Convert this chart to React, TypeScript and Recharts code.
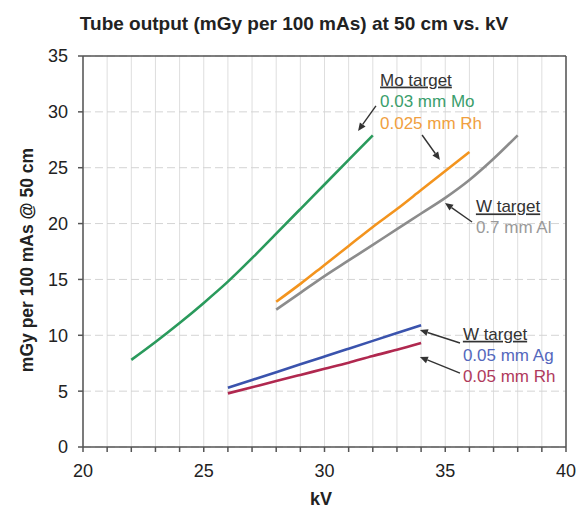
import React from 'react';
import { LineChart, Line, XAxis, YAxis, CartesianGrid, ReferenceLine, ReferenceDot, Customized } from 'recharts';

// kV values and tube outputs (mGy per 100 mAs @ 50 cm)
const kvMoMo = [22, 23, 24, 25, 26, 27, 28, 29, 30, 31, 32];
const outMoMo = [7.8, 9.4, 11.1, 12.9, 14.8, 16.9, 19.1, 21.3, 23.5, 25.7, 27.9];

const kvMoRh = [28, 29, 30, 31, 32, 33, 34, 35, 36];
const outMoRh = [13.0, 14.6, 16.3, 18.0, 19.7, 21.3, 23.0, 24.7, 26.4];

const kvWAl = [28, 29, 30, 31, 32, 33, 34, 35, 36, 37, 38];
const outWAl = [12.3, 13.8, 15.3, 16.7, 18.1, 19.5, 20.9, 22.3, 23.9, 25.8, 27.9];

const kvWAg = [26, 27, 28, 29, 30, 31, 32, 33, 34];
const outWAg = [5.3, 6.0, 6.7, 7.4, 8.1, 8.8, 9.5, 10.2, 10.9];

const kvWRh = [26, 27, 28, 29, 30, 31, 32, 33, 34];
const outWRh = [4.8, 5.35, 5.9, 6.45, 7.0, 7.55, 8.15, 8.7, 9.3];

const xTicks = [20, 21, 22, 23, 24, 25, 26, 27, 28, 29, 30, 31, 32, 33, 34, 35, 36, 37, 38, 39, 40];
const yTicks = [0, 5, 10, 15, 20, 25, 30, 35];

const titleText = 'Tube output (mGy per 100 mAs) at 50 cm vs. kV';
const xLabel = 'kV';
const yLabel = 'mGy per 100 mAs @ 50 cm';

const annLabels = ['Mo target', '0.03 mm Mo', '0.025 mm Rh', 'W target', '0.7 mm Al', 'W target', '0.05 mm Ag', '0.05 mm Rh'];
const annKV = [32.3, 32.3, 32.3, 36.27, 36.27, 35.73, 35.73, 35.73];
const annVal = [32.35, 30.4, 28.5, 21.0, 19.2, 9.6, 7.72, 5.85];
const annColors = ['#333333', '#3a9e6c', '#f0a040', '#333333', '#9a9a9a', '#333333', '#5468bd', '#b03a5c'];
const annUnderline = [true, false, false, true, false, true, false, false];

const arrowFromKV = [32.13, 34.04, 36.11, 35.61, 35.61];
const arrowFromVal = [30.53, 27.93, 20.14, 9.31, 6.62];
const arrowToKV = [31.39, 34.78, 34.99, 33.95, 33.95];
const arrowToVal = [28.29, 25.69, 21.84, 10.47, 8.06];

const series = [
  { name: '0.03 mm Mo', kv: kvMoMo, out: outMoMo, color: '#2a9a5c' },
  { name: '0.025 mm Rh', kv: kvMoRh, out: outMoRh, color: '#f3941e' },
  { name: '0.7 mm Al', kv: kvWAl, out: outWAl, color: '#8c8c8c' },
  { name: '0.05 mm Ag', kv: kvWAg, out: outWAg, color: '#3a53ad' },
  { name: '0.05 mm Rh', kv: kvWRh, out: outWRh, color: '#b0284f' },
];

const FONT = '"Liberation Sans", Arial, sans-serif';

const arrowShape = (p: any) => {
  const { x1, y1, x2, y2 } = p;
  const ang = Math.atan2(y2 - y1, x2 - x1);
  const L = 8;
  const W = 3.5;
  const bx = x2 - L * Math.cos(ang);
  const by = y2 - L * Math.sin(ang);
  const px = -Math.sin(ang) * W;
  const py = Math.cos(ang) * W;
  return (
    <g>
      <line x1={x1} y1={y1} x2={bx} y2={by} stroke="#333" strokeWidth={1.4} />
      <polygon points={`${x2},${y2} ${bx + px},${by + py} ${bx - px},${by - py}`} fill="#333" />
    </g>
  );
};

const xTickFmt = (v: number) => (v % 5 === 0 ? String(v) : '');

export default function App() {
  return (
    <div>
      <style>{'body{margin:0;overflow:hidden;background:#fff}'}</style>
      <LineChart width={576} height={510} margin={{ top: 56, right: 10, left: 23, bottom: 23 }}>
        <CartesianGrid horizontal={false} stroke="#dedede" strokeWidth={1} />
        <CartesianGrid vertical={false} stroke="#d4d4d4" strokeDasharray="8 4" strokeWidth={1} />
        <XAxis
          type="number"
          dataKey="kv"
          domain={[20, 40]}
          ticks={xTicks}
          tickFormatter={xTickFmt}
          interval={0}
          allowDataOverflow
          height={40}
          stroke="#555"
          strokeWidth={1.5}
          tickSize={5}
          tickMargin={12}
          tick={{ fill: '#222', fontSize: 18, fontFamily: FONT }}
        />
        <YAxis
          type="number"
          domain={[0, 35]}
          ticks={yTicks}
          interval={0}
          width={60}
          stroke="#555"
          strokeWidth={1.5}
          tickSize={5}
          tickMargin={10}
          tick={{ fill: '#222', fontSize: 18, fontFamily: FONT }}
        />
        <ReferenceLine y={35} stroke="#555" strokeWidth={1.5} />
        <ReferenceLine x={40} stroke="#555" strokeWidth={1.5} />
        {series.map((s) => (
          <Line
            key={s.name}
            name={s.name}
            type="monotone"
            data={s.kv.map((k, i) => ({ kv: k, out: s.out[i] }))}
            dataKey="out"
            stroke={s.color}
            strokeWidth={2.6}
            dot={false}
            isAnimationActive={false}
          />
        ))}
        {arrowFromKV.map((k, i) => (
          <ReferenceLine
            key={'ar' + i}
            segment={[
              { x: k, y: arrowFromVal[i] },
              { x: arrowToKV[i], y: arrowToVal[i] },
            ]}
            ifOverflow="visible"
            shape={arrowShape}
          />
        ))}
        {annLabels.map((t, i) => (
          <ReferenceDot
            key={'an' + i}
            x={annKV[i]}
            y={annVal[i]}
            r={0}
            ifOverflow="visible"
            shape={(p: any) => (
              <text
                x={p.cx}
                y={p.cy}
                fill={annColors[i]}
                fontSize={17}
                fontFamily={FONT}
                style={annUnderline[i] ? { textDecoration: 'underline' } : undefined}
              >
                {t}
              </text>
            )}
          />
        ))}
        <Customized
          component={() => (
            <g>
              <text x={294} y={30} textAnchor="middle" fontSize={19} fontWeight="bold" fontFamily={FONT} fill="#222">
                {titleText}
              </text>
              <text x={321} y={505} textAnchor="middle" fontSize={18} fontWeight="bold" fontFamily={FONT} fill="#222">
                {xLabel}
              </text>
              <text
                x={0}
                y={0}
                transform="translate(33,260) rotate(-90)"
                textAnchor="middle"
                fontSize={17.5}
                fontWeight="bold"
                fontFamily={FONT}
                fill="#222"
              >
                {yLabel}
              </text>
            </g>
          )}
        />
      </LineChart>
    </div>
  );
}
